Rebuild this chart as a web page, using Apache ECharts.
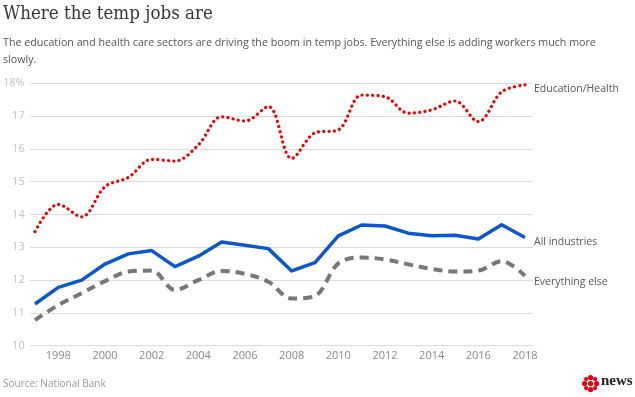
<!DOCTYPE html>
<html>
<head>
<meta charset="utf-8">
<style>
  html, body { margin: 0; padding: 0; background: #fff; }
  #chart { width: 635px; height: 397px; }
</style>
<script src="https://cdn.jsdelivr.net/npm/echarts@6/dist/echarts.min.js"></script>
</head>
<body>
<div id="chart"></div>
<script>
// Share of workers in temp jobs, by sector (%)
const years = [1997, 1998, 1999, 2000, 2001, 2002, 2003, 2004, 2005, 2006, 2007,
  2008, 2009, 2010, 2011, 2012, 2013, 2014, 2015, 2016, 2017, 2018];
const eduHealth = [13.48, 14.31, 13.93, 14.85, 15.13, 15.68, 15.63, 16.12, 16.98, 16.85, 17.29,
  15.71, 16.49, 16.58, 17.64, 17.59, 17.09, 17.19, 17.46, 16.83, 17.74, 17.95];
const allIndustries = [11.27, 11.78, 12.0, 12.49, 12.8, 12.9, 12.41, 12.73, 13.16, 13.06, 12.96,
  12.28, 12.53, 13.35, 13.68, 13.65, 13.43, 13.35, 13.37, 13.25, 13.69, 13.3];
const everythingElse = [10.78, 11.24, 11.6, 11.97, 12.26, 12.29, 11.7, 12.0, 12.28, 12.19, 11.95,
  11.44, 11.52, 12.51, 12.69, 12.63, 12.48, 12.34, 12.26, 12.29, 12.58, 12.13];
const yTicks = [10, 11, 12, 13, 14, 15, 16, 17, 18];

const chart = echarts.init(document.getElementById('chart'), null, { renderer: 'canvas' });

const font = '"Open Sans", sans-serif';
const endLabel = (name, dy) => ({
  show: true,
  formatter: name,
  color: '#555',
  fontFamily: font,
  fontSize: 10.5,
  distance: 9,
  offset: [0, dy]
});

const option = {
  animation: false,
  backgroundColor: '#fff',
  grid: [
    // wider grid: only carries the horizontal rules and y labels
    { left: 27, right: 102, top: 83.3, bottom: 51.3 },
    { left: 35, right: 110, top: 83.3, bottom: 51.3 }
  ],
  xAxis: [
    { type: 'category', gridIndex: 0, data: years, show: false },
    {
      type: 'category', gridIndex: 1, data: years, boundaryGap: false,
      axisLine: { show: false }, axisTick: { show: false },
      axisLabel: {
        interval: (i, v) => Number(v) % 2 === 0,
        color: '#888', fontFamily: font, fontSize: 11, margin: 5
      }
    }
  ],
  yAxis: [
    {
      type: 'value', gridIndex: 0, min: yTicks[0], max: yTicks[yTicks.length - 1], interval: 1,
      axisLine: { show: false }, axisTick: { show: false },
      splitLine: { lineStyle: { color: '#dcdcdc', width: 1 } },
      axisLabel: {
        formatter: (v) => (v === 18 ? '18%' : String(v)),
        color: '#c4c4c4', fontFamily: font, fontSize: 11, margin: 5
      }
    },
    {
      type: 'value', gridIndex: 1, min: yTicks[0], max: yTicks[yTicks.length - 1], interval: 1,
      show: false, splitLine: { show: false }
    }
  ],
  series: [
    {
      name: 'Everything else', type: 'line', xAxisIndex: 1, yAxisIndex: 1,
      data: everythingElse, smooth: 0.35, symbol: 'none',
      lineStyle: { color: '#777', width: 4, type: [9, 6] },
      endLabel: endLabel('Everything else', 6.5)
    },
    {
      name: 'All industries', type: 'line', xAxisIndex: 1, yAxisIndex: 1,
      data: allIndustries, symbol: 'none',
      lineStyle: { color: '#0b57cf', width: 3.5, join: 'round' },
      endLabel: endLabel('All industries', 4.5)
    },
    {
      name: 'Education/Health', type: 'line', xAxisIndex: 1, yAxisIndex: 1,
      data: eduHealth, smooth: 0.35, symbol: 'none',
      lineStyle: { color: '#f00000', width: 3.2, type: [0.1, 5.2], cap: 'round' },
      endLabel: endLabel('Education/Health', 4.5)
    }
  ],
  graphic: [
    {
      type: 'text', left: 3, top: 5, scaleX: 0.88,
      style: { text: 'Where the temp jobs are', fill: '#363636', font: '19px "DejaVu Serif", serif' }
    },
    {
      type: 'text', left: 3, top: 35,
      style: {
        text: 'The education and health care sectors are driving the boom in temp jobs. Everything else is adding workers much more\nslowly.',
        fill: '#555', font: '10.7px "Open Sans", sans-serif', lineHeight: 16.5
      }
    },
    {
      type: 'text', left: 3, top: 379,
      style: { text: 'Source: National Bank', fill: '#999', font: '10px "Open Sans", sans-serif' }
    },
    {
      type: 'group', left: 582, top: 375,
      children: [
        { type: 'circle', shape: { cx: 9, cy: 9, r: 2.6 }, style: { fill: '#e3000f' } },
        { type: 'circle', shape: { cx: 9, cy: 3, r: 2.6 }, style: { fill: '#e3000f' } },
        { type: 'circle', shape: { cx: 9, cy: 15, r: 2.6 }, style: { fill: '#e3000f' } },
        { type: 'circle', shape: { cx: 3, cy: 9, r: 2.6 }, style: { fill: '#e3000f' } },
        { type: 'circle', shape: { cx: 15, cy: 9, r: 2.6 }, style: { fill: '#e3000f' } },
        { type: 'circle', shape: { cx: 4.5, cy: 4.5, r: 2.1 }, style: { fill: '#e3000f' } },
        { type: 'circle', shape: { cx: 13.5, cy: 4.5, r: 2.1 }, style: { fill: '#e3000f' } },
        { type: 'circle', shape: { cx: 4.5, cy: 13.5, r: 2.1 }, style: { fill: '#e3000f' } },
        { type: 'circle', shape: { cx: 13.5, cy: 13.5, r: 2.1 }, style: { fill: '#e3000f' } }
      ]
    },
    {
      type: 'text', left: 601, top: 374,
      style: { text: 'news', fill: '#222', font: 'bold 15px "Liberation Serif", serif' }
    }
  ]
};

chart.setOption(option);
</script>
</body>
</html>
